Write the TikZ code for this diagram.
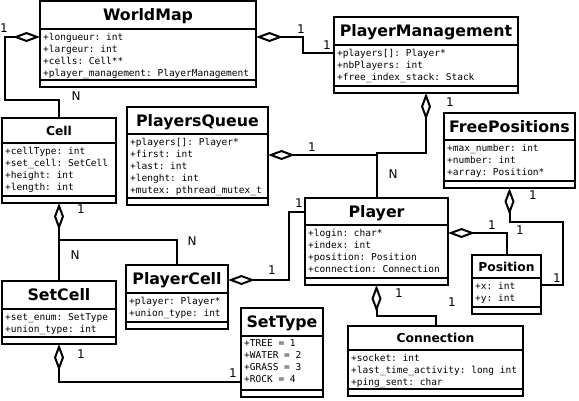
\documentclass[tikz,border=0pt]{standalone}
\usepackage{fontspec}
\setmainfont{DejaVu Sans}
\setmonofont{DejaVu Sans Mono}
\usetikzlibrary{arrows.meta,calc}

\tikzset{
  classbox/.style={draw, line width=2pt, inner sep=0pt, outer sep=0pt, anchor=north west},
  bigtitle/.style={inner sep=0pt, text height=11.5pt, text depth=0pt, font=\bfseries\fontsize{15.8}{18}\selectfont},
  smalltitle/.style={inner sep=0pt, text height=9pt, text depth=0pt, font=\bfseries\fontsize{12.3}{14}\selectfont},
  attrs/.style={anchor=north west, align=left, inner xsep=3pt, inner ysep=3.8pt, font=\ttfamily\fontsize{9.5}{12}\selectfont},
  card/.style={inner sep=0pt, text height=8.8pt, text depth=0pt, font=\fontsize{12}{14}\selectfont},
  link/.style={line width=2pt},
  aggr/.style={link, {Diamond[open, length=27pt, width=10pt]}-},
}

% #1 name, #2 left, #3 right, #4 top, #5 title bottom, #6 attributes bottom, #7 title style, #8 title, #9 attributes
\newcommand{\umlclass}[9]{%
  \node[classbox, minimum width=#3-#2, minimum height=#6+7-#4] (#1) at (#2,#4) {};
  \draw[link] (#2,#5) -- (#3,#5);
  \draw[link] (#2,#6) -- (#3,#6);
  \node[#7] (#1-name) at ({(#2+#3)/2},{(#4+#5)/2}) {#8};
  \node[attrs] (#1-attrs) at (#2,#5) {#9};
}

\begin{document}
\begin{tikzpicture}[x=1pt, y=-1pt]
    \path[use as bounding box, fill=white] (0,0) rectangle (579,400);

    % classes
    \umlclass{worldmap}{40}{256}{1}{29}{80}{bigtitle}{WorldMap}
      {+longueur: int\\+largeur: int\\+cells: Cell**\\+player\_management: PlayerManagement}
    \umlclass{playermgmt}{334}{518}{17}{45}{86}{bigtitle}{PlayerManagement}
      {+players[]: Player*\\+nbPlayers: int\\+free\_index\_stack: Stack}
    \umlclass{cell}{2}{116}{118}{143}{196}{smalltitle}{Cell}
      {+cellType: int\\+set\_cell: SetCell\\+height: int\\+length: int}
    \umlclass{playersqueue}{127}{268}{107}{134}{198}{bigtitle}{PlayersQueue}
      {+players[]: Player*\\+first: int\\+last: int\\+lenght: int\\+mutex: pthread\_mutex\_t}
    \umlclass{freepositions}{444}{575}{113}{140}{181}{bigtitle}{FreePositions}
      {+max\_number: int\\+number: int\\+array: Position*}
    \umlclass{player}{305}{448}{198}{225}{278}{bigtitle}{Player}
      {+login: char*\\+index: int\\+position: Position\\+connection: Connection}
    \umlclass{position}{472}{541}{255}{278}{307}{smalltitle}{Position}
      {+x: int\\+y: int}
    \umlclass{connection}{348}{523}{326}{350}{389}{smalltitle}{Connection}
      {+socket: int\\+last\_time\_activity: long int\\+ping\_sent: char}
    \umlclass{setcell}{2}{116}{281}{309}{337}{bigtitle}{SetCell}
      {+set\_enum: SetType\\+union\_type: int}
    \umlclass{playercell}{126}{228}{265}{293}{322}{bigtitle}{PlayerCell}
      {+player: Player*\\+union\_type: int}
    \umlclass{settype}{241}{323}{308}{336}{390}{bigtitle}{SetType}
      {+TREE = 1\\+WATER = 2\\+GRASS = 3\\+ROCK = 4}

    % aggregations
    \draw[aggr] (worldmap.west |- 0,37) -| (5,100) -| (cell.north);
    \draw[aggr] (worldmap.east |- 0,37) -| (303,53) -- (playermgmt.west |- 0,53);
    \draw[aggr] (playermgmt.south) |- (player.north |- 0,153) -- (player.north);
    \draw[aggr] (playersqueue.east |- 0,155) -- (player.north |- 0,155);
    \draw[aggr] (cell.south) -- (setcell.north);
    \draw[link] (cell.south |- 0,240) -| (playercell.north);
    \draw[aggr] (playercell.east |- 0,280) -| (289,212) -- (player.west |- 0,212);
    \draw[aggr] (setcell.south) |- (settype.west |- 0,382);
    \draw[aggr] (player.east |- 0,233) -| (position.north);
    \draw[aggr] (freepositions.south) |- (563,222) |- (position.east);
    \draw[aggr] (player.south) |- (420,316) -| (connection.north);

    % multiplicities
    \node[card] (m1) at (4,28) {1};
    \node[card] (m2) at (76,96) {N};
    \node[card] (m3) at (301,29) {1};
    \node[card] (m4) at (327,45) {1};
    \node[card] (m5) at (450,102) {1};
    \node[card] (m6) at (312,147) {1};
    \node[card] (m7) at (393,174) {N};
    \node[card] (m8) at (299,203) {1};
    \node[card] (m9) at (81,209) {1};
    \node[card] (m10) at (75,255) {N};
    \node[card] (m11) at (192,241) {N};
    \node[card] (m12) at (272,270) {1};
    \node[card] (m13) at (81,354) {1};
    \node[card] (m14) at (233,373) {1};
    \node[card] (m15) at (533,195) {1};
    \node[card] (m16) at (492,225) {1};
    \node[card] (m17) at (520,230) {1};
    \node[card] (m18) at (557,278) {1};
    \node[card] (m19) at (399,293) {1};
    \node[card] (m20) at (452,302) {1};
\end{tikzpicture}
\end{document}
